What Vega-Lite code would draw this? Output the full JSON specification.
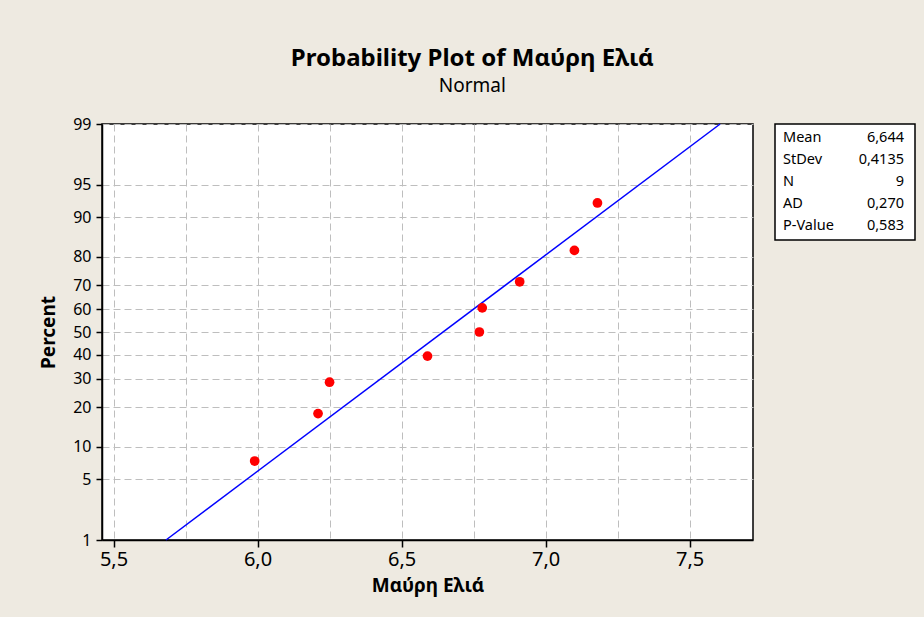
{
  "$schema": "https://vega.github.io/schema/vega-lite/v6.json",
  "background": "#EEEAE1",
  "padding": {"left": 38, "top": 47, "right": 12, "bottom": 30},
  "config": {
    "font": "Noto Sans",
    "view": {"stroke": "black", "strokeWidth": 1.5, "fill": "white"}
  },
  "title": {
    "text": "Probability Plot of Μαύρη Ελιά",
    "subtitle": "Normal",
    "font": "Noto Sans",
    "subtitleFont": "Noto Sans",
    "fontSize": 24,
    "fontWeight": "bold",
    "color": "black",
    "subtitleFontSize": 19,
    "subtitleColor": "black",
    "subtitlePadding": 6,
    "anchor": "middle",
    "dx": -5,
    "offset": 19
  },
  "datasets": {
    "points": [
      {"value": 5.99, "percent": 7.45, "normalScore": -1.443},
      {"value": 6.21, "percent": 18.09, "normalScore": -0.9123},
      {"value": 6.25, "percent": 28.72, "normalScore": -0.5615},
      {"value": 6.59, "percent": 39.36, "normalScore": -0.2694},
      {"value": 6.77, "percent": 50.0, "normalScore": 0},
      {"value": 6.78, "percent": 60.64, "normalScore": 0.2694},
      {"value": 6.91, "percent": 71.28, "normalScore": 0.5615},
      {"value": 7.10, "percent": 81.91, "normalScore": 0.9123},
      {"value": 7.18, "percent": 92.55, "normalScore": 1.443}
    ],
    "fit": [
      {"value": 5.6821, "percent": 1, "normalScore": -2.3263},
      {"value": 7.6059, "percent": 99, "normalScore": 2.3263}
    ],
    "stats": [
      {"stat": "Mean", "result": "6,644"},
      {"stat": "StDev", "result": "0,4135"},
      {"stat": "N", "result": "9"},
      {"stat": "AD", "result": "0,270"},
      {"stat": "P-Value", "result": "0,583"}
    ]
  },
  "hconcat": [
    {
      "width": 651,
      "height": 416,
      "encoding": {
        "x": {
          "field": "value",
          "type": "quantitative",
          "scale": {"domain": [5.46, 7.72], "nice": false, "zero": false},
          "axis": {
            "title": "Μαύρη Ελιά",
            "titleFont": "Noto Sans",
            "titleFontSize": 19,
            "titleFontWeight": "bold",
            "titleColor": "black",
            "titlePadding": 7,
            "values": [5.5, 5.75, 6.0, 6.25, 6.5, 6.75, 7.0, 7.25, 7.5],
            "labelExpr": "datum.value % 0.5 === 0 ? replace(format(datum.value, '.1f'), '.', ',') : ''",
            "labelFont": "Noto Sans",
            "labelFontSize": 20,
            "labelColor": "black",
            "labelPadding": 2,
            "tickSize": 7,
            "tickColor": "black",
            "tickWidth": 1.5,
            "tickOpacity": {"condition": {"test": "datum.value % 0.5 !== 0", "value": 0}, "value": 1},
            "domainColor": "black",
            "domainWidth": 1.5,
            "grid": true,
            "gridColor": "#BEBEBE",
            "gridDash": [7, 4],
            "gridWidth": 1
          }
        },
        "y": {
          "field": "normalScore",
          "type": "quantitative",
          "scale": {"domain": [-2.3263, 2.3263], "nice": false, "zero": false},
          "axis": {
            "title": "Percent",
            "titleFont": "Noto Sans",
            "titleFontSize": 19,
            "titleFontWeight": "bold",
            "titleColor": "black",
            "titlePadding": 14,
            "values": [-2.3263, -1.6449, -1.2816, -0.8416, -0.5244, -0.2533, 0, 0.2533, 0.5244, 0.8416, 1.2816, 1.6449, 2.3263],
            "labelExpr": "format(cumulativeNormal(datum.value) * 100, '.0f')",
            "labelFont": "Noto Sans",
            "labelFontSize": 16,
            "labelColor": "black",
            "labelPadding": 5,
            "tickSize": 6,
            "tickColor": "black",
            "tickWidth": 1.5,
            "domainColor": "black",
            "domainWidth": 1.5,
            "grid": true,
            "gridColor": "#BEBEBE",
            "gridDash": [7, 4],
            "gridWidth": 1
          }
        }
      },
      "layer": [
        {
          "data": {"name": "fit"},
          "mark": {"type": "line", "color": "#0000FF", "strokeWidth": 1.5}
        },
        {
          "data": {"name": "points"},
          "mark": {"type": "circle", "color": "#FF0000", "size": 95, "opacity": 1}
        }
      ]
    },
    {
      "width": 140,
      "height": 116,
      "data": {"name": "stats"},
      "encoding": {
        "y": {"field": "stat", "type": "ordinal", "sort": null, "scale": {"type": "point", "padding": 0.62}, "axis": null}
      },
      "layer": [
        {
          "mark": {"type": "text", "align": "left", "baseline": "middle", "dx": 8, "fontSize": 14.5, "font": "Noto Sans", "color": "black"},
          "encoding": {
            "x": {"datum": "left", "type": "nominal", "scale": {"type": "point", "domain": ["left", "right"], "padding": 0}, "axis": null},
            "text": {"field": "stat"}
          }
        },
        {
          "mark": {"type": "text", "align": "right", "baseline": "middle", "dx": -11, "fontSize": 14.5, "font": "Noto Sans", "color": "black"},
          "encoding": {
            "x": {"datum": "right", "type": "nominal"},
            "text": {"field": "result"}
          }
        }
      ]
    }
  ],
  "spacing": 22,
  "bounds": "flush"
}
